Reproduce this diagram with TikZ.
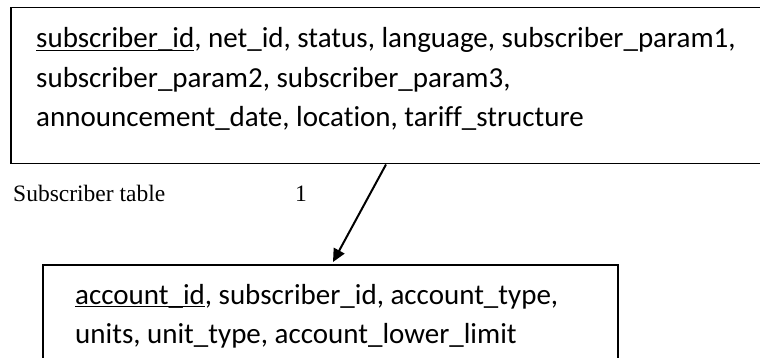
\documentclass[tikz,border=0pt]{standalone}
\usepackage{fontspec}
\setmainfont{Carlito}[Ligatures={NoCommon}]
\newfontfamily\labelfont{Liberation Serif}
\usetikzlibrary{calc,arrows.meta}

% underline a key attribute with a rule that sits on the underscore level
\newcommand\keyattr[1]{\setbox0\hbox{#1}\rlap{\rule[-0.115em]{\wd0}{0.055em}}\box0}

\tikzset{
  tablebox/.style={draw, line width=1.5pt, inner sep=0pt, anchor=north west},
  attrline/.style={anchor=base west, inner sep=0pt, font=\fontsize{29}{34}\selectfont},
  caption/.style={anchor=base west, inner sep=0pt, font=\labelfont\fontsize{23.5}{28}\selectfont},
  relation/.style={line width=2pt, -{Triangle[length=13pt,width=12pt]}}
}

\begin{document}
\begin{tikzpicture}[x=1pt,y=-1pt]
  \useasboundingbox (0,0) rectangle (760,358);
  \clip (0,0) rectangle (760,358);

  % Subscriber table
  \node[tablebox, minimum width=790pt, minimum height=156pt] (subbox) at (10,7) {};
  \node[attrline] (s1) at (36,48) {\keyattr{subscriber\_id}, net\_id, status, language, subscriber\_param1,};
  \node[attrline] (s2) at (36,88) {subscriber\_param2, subscriber\_param3,};
  \node[attrline] (s3) at (36,127) {announcement\_date, location, tariff\_structure};

  % caption and cardinality
  \node[caption] (cap) at (13,202) {Subscriber table};
  \node[caption] (card) at (295,202) {1};

  % Account table
  \node[tablebox, minimum width=575pt, minimum height=130pt] (accbox) at (42,264) {};
  \node[attrline] (a1) at (75,304) {\keyattr{account\_id}, subscriber\_id, account\_type,};
  \node[attrline] (a2) at (75,343) {units, unit\_type, account\_lower\_limit};

  % one-to-many relation
  \coordinate (from) at ($(subbox.south west)+(376,0)$);
  \coordinate (to) at ($(accbox.north west)+(291,-2)$);
  \draw[relation] (from) -- (to);
\end{tikzpicture}
\end{document}
